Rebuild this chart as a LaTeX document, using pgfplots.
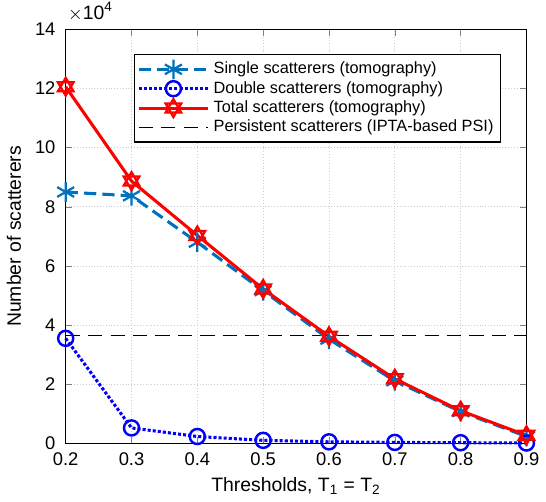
\documentclass[border=0pt]{standalone}
\usepackage{fontspec}
\setmainfont{Liberation Sans}
\usepackage{pgfplots}
\pgfplotsset{compat=1.18}
\definecolor{mblue}{rgb}{0,0.447,0.741}

% hexagram mark (two overlapping triangles)
\pgfdeclareplotmark{hexagram}{%
  \pgfpathmoveto{\pgfqpointpolar{90}{\pgfplotmarksize}}%
  \pgfpathlineto{\pgfqpointpolar{210}{\pgfplotmarksize}}%
  \pgfpathlineto{\pgfqpointpolar{330}{\pgfplotmarksize}}%
  \pgfpathclose
  \pgfpathmoveto{\pgfqpointpolar{270}{\pgfplotmarksize}}%
  \pgfpathlineto{\pgfqpointpolar{30}{\pgfplotmarksize}}%
  \pgfpathlineto{\pgfqpointpolar{150}{\pgfplotmarksize}}%
  \pgfpathclose
  \pgfusepathqstroke}

\begin{document}
\begin{tikzpicture}
\begin{axis}[
  width=226pt, height=203pt, scale only axis,
  xmin=0.2, xmax=0.9, ymin=0, ymax=14,
  xtick={0.2,0.3,...,0.9}, ytick={0,2,...,14},
  /pgf/number format/assume math mode=true,
  tick label style={font=\fontsize{9}{10}\selectfont},
  xticklabel style={yshift=-1pt, /pgf/number format/.cd, fixed, fixed zerofill, precision=1},
  yticklabel style={xshift=-1.5pt},
  label style={font=\fontsize{9.5}{11}\selectfont},
  xlabel={Thresholds, T\textsubscript{1} = T\textsubscript{2}},
  ylabel={Number of scatterers},
  xlabel style={yshift=1pt},
  tick align=inside, major tick length=3pt,
  axis line style={line width=0.5pt},
  grid=major, grid style={densely dotted, draw=black!20, line width=0.4pt},
  legend style={font=\fontsize{8}{9}\selectfont, at={(0.945,0.94)}, anchor=north east,
    draw=black, line width=0.5pt, row sep=-1.8pt, inner sep=1.5pt},
  legend cell align=left,
  legend image code/.code={\draw[mark repeat=2, mark phase=2, #1]
    plot coordinates {(0pt,0pt) (17pt,0pt) (34pt,0pt)};},
  clip=false,
]
\addplot[mblue, line width=1.5pt, dash pattern=on 6pt off 3pt, mark=asterisk, mark size=4.8pt,
  mark options={solid, line width=1.1pt}]
  coordinates {(0.2,8.50) (0.3,8.37) (0.4,6.80) (0.5,5.16) (0.6,3.52) (0.7,2.11) (0.8,1.07) (0.9,0.23)};
\addlegendentry{Single scatterers (tomography)}
\addplot[blue, line width=1.5pt, densely dotted, mark=o, mark size=3.7pt,
  mark options={solid, line width=1.2pt}]
  coordinates {(0.2,3.55) (0.3,0.52) (0.4,0.23) (0.5,0.10) (0.6,0.05) (0.7,0.03) (0.8,0.02) (0.9,0.01)};
\addlegendentry{Double scatterers (tomography)}
\addplot[red, line width=1.5pt, mark=hexagram, mark size=4.4pt,
  mark options={solid, line width=1.1pt}]
  coordinates {(0.2,12.06) (0.3,8.87) (0.4,7.03) (0.5,5.22) (0.6,3.62) (0.7,2.18) (0.8,1.10) (0.9,0.27)};
\addlegendentry{Total scatterers (tomography)}
\addplot[black, line width=0.7pt, dash pattern=on 7pt off 4pt]
  coordinates {(0.2,3.65) (0.9,3.65)};
\addlegendentry{Persistent scatterers (IPTA-based PSI)}
\node[anchor=south west, inner sep=1pt, yshift=3pt, font=\fontsize{9.5}{11}\selectfont]
  at (rel axis cs:0,1) {$\times$10\textsuperscript{4}};
\end{axis}
\end{tikzpicture}
\end{document}
